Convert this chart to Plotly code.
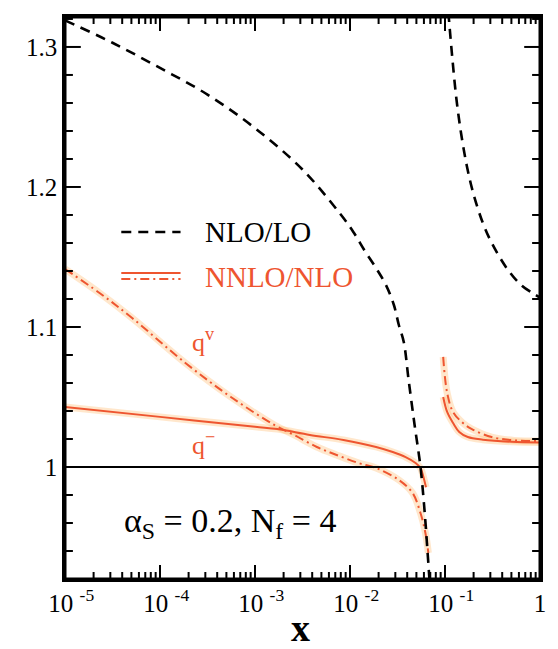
import math
import plotly.graph_objects as go

# ---------------- data ----------------
# NLO/LO, small-x branch
nlo_x1 = [1e-5, 3.16e-5, 1e-4, 3.16e-4, 1e-3, 3.16e-3, 7.76e-3, 1.084e-2, 1.413e-2,
          1.879e-2, 2.388e-2, 2.897e-2, 3.266e-2, 3.681e-2, 4.140e-2, 4.786e-2,
          5.521e-2, 6.081e-2, 6.531e-2, 6.855e-2]
nlo_y1 = [1.319, 1.303, 1.285, 1.266, 1.242, 1.2125, 1.1814, 1.1679, 1.155,
          1.1421, 1.130, 1.1157, 1.1014, 1.0893, 1.0621, 1.030,
          1.000, 0.9693, 0.9407, 0.920]
# NLO/LO, large-x branch
nlo_x2 = [0.1084, 0.1122, 0.1202, 0.1318, 0.1479, 0.1698, 0.1995, 0.2512,
          0.3162, 0.4467, 0.6310, 0.8913, 1.0]
nlo_y2 = [1.325, 1.313, 1.290, 1.263, 1.238, 1.215, 1.195, 1.174,
          1.159, 1.142, 1.130, 1.123, 1.121]

# NNLO/NLO, q^- (solid)
qm_x1 = [1e-5, 1e-4, 1e-3, 1.72e-3, 3.78e-3, 8.53e-3, 1.88e-2, 2.82e-2,
         3.85e-2, 4.90e-2, 5.52e-2, 5.93e-2, 6.31e-2]
qm_y1 = [1.0429, 1.0358, 1.0287, 1.0271, 1.0229, 1.0193, 1.0143, 1.0107,
         1.0071, 1.0029, 0.9993, 0.9929, 0.9855]
qm_x2 = [0.0957, 0.1054, 0.1216, 0.1413, 0.1738, 0.2512, 0.5012, 1.0]
qm_y2 = [1.050, 1.0393, 1.0314, 1.0250, 1.0214, 1.0195, 1.0180, 1.0175]

# NNLO/NLO, q^v (dash-dot)
qv_x1 = [1e-5, 2.31e-5, 5.09e-5, 1.85e-4, 5.57e-4, 1.60e-3, 2.58e-3, 4.48e-3,
         7.23e-3, 1.22e-2, 1.88e-2, 3.27e-2, 4.56e-2, 5.52e-2, 6.22e-2, 6.68e-2]
qv_y1 = [1.1414, 1.1243, 1.1064, 1.0743, 1.0500, 1.0300, 1.0229, 1.0143,
         1.0086, 1.0029, 0.9993, 0.9907, 0.9814, 0.9671, 0.9529, 0.9386]
qv_x2 = [0.0957, 0.1054, 0.1216, 0.1545, 0.1919, 0.3097, 0.5370, 1.0]
qv_y2 = [1.0786, 1.0529, 1.0393, 1.0314, 1.0271, 1.0214, 1.0190, 1.0185]

# axes ticks
x_tickvals = [1e-5, 1e-4, 1e-3, 1e-2, 1e-1, 1]
x_ticktext = ["\u00a0\u00a010\u00a0<sup>-5</sup>", "\u00a0\u00a010\u00a0<sup>-4</sup>",
              "\u00a0\u00a010\u00a0<sup>-3</sup>", "\u00a0\u00a010\u00a0<sup>-2</sup>",
              "\u00a0\u00a010\u00a0<sup>-1</sup>", "1"]
x_minor_vals = [m * d for d in [1e-5, 1e-4, 1e-3, 1e-2, 1e-1] for m in range(2, 10)]
y_tickvals = [1.0, 1.1, 1.2, 1.3]
y_ticktext = ["1", "1.1", "1.2", "1.3"]
y_minor_vals = [0.94, 0.96, 0.98, 1.02, 1.04, 1.06, 1.08, 1.12, 1.14, 1.16, 1.18,
                1.22, 1.24, 1.26, 1.28, 1.32]
ref_x = [1e-5, 1.0]
ref_y = [1.0, 1.0]

X_RANGE = [-5, 0]
Y_RANGE = [0.92, 1.3214]

# ---------------- styles / geometry ----------------
W, H = 558, 649
ML, MR, MT, MB = 65, 12, 17, 70
PW, PH = W - ML - MR, H - MT - MB
ORANGE = "#EE5530"
HALO = "rgba(255,185,110,0.35)"
SERIF = "Liberation Serif, Times New Roman, serif"
DASHDOT = "9px,4px,2px,4px"
DASH = "10px,7px"

fig = go.Figure()

# glow under orange curves
for xs, ys in [(qm_x1, qm_y1), (qm_x2, qm_y2), (qv_x1, qv_y1), (qv_x2, qv_y2)]:
    fig.add_trace(go.Scatter(x=xs, y=ys, mode="lines",
                             line=dict(color=HALO, width=7, shape="spline"),
                             hoverinfo="skip", showlegend=False))

fig.add_trace(go.Scatter(x=qm_x1, y=qm_y1, mode="lines",
                         line=dict(color=ORANGE, width=2, shape="spline"), showlegend=False))
fig.add_trace(go.Scatter(x=qm_x2, y=qm_y2, mode="lines",
                         line=dict(color=ORANGE, width=2, shape="spline"), showlegend=False))
fig.add_trace(go.Scatter(x=qv_x1, y=qv_y1, mode="lines",
                         line=dict(color=ORANGE, width=2, dash=DASHDOT, shape="spline"),
                         showlegend=False))
fig.add_trace(go.Scatter(x=qv_x2, y=qv_y2, mode="lines",
                         line=dict(color=ORANGE, width=2, dash=DASHDOT, shape="spline"),
                         showlegend=False))

fig.add_trace(go.Scatter(x=nlo_x1, y=nlo_y1, mode="lines",
                         line=dict(color="black", width=2.6, dash=DASH, shape="spline"),
                         showlegend=False))
fig.add_trace(go.Scatter(x=nlo_x2, y=nlo_y2, mode="lines",
                         line=dict(color="black", width=2.6, dash=DASH, shape="spline"),
                         showlegend=False))

# reference line at 1
fig.add_trace(go.Scatter(x=ref_x, y=ref_y, mode="lines",
                         line=dict(color="black", width=2), showlegend=False, hoverinfo="skip"))

# ---------- inward ticks on all four sides, drawn as a line trace ----------
ySpan = Y_RANGE[1] - Y_RANGE[0]
xSpan = X_RANGE[1] - X_RANGE[0]
tx, ty = [], []
for vals, length in [(x_tickvals, 14), (x_minor_vals, 7)]:
    dy = length / PH * ySpan
    for v in vals:
        if 10 ** X_RANGE[0] < v < 10 ** X_RANGE[1]:
            tx += [v, v, None, v, v, None]
            ty += [Y_RANGE[0], Y_RANGE[0] + dy, None, Y_RANGE[1], Y_RANGE[1] - dy, None]
for vals, length in [(y_tickvals, 16), (y_minor_vals, 8)]:
    dlog = length / PW * xSpan
    for v in vals:
        if Y_RANGE[0] < v < Y_RANGE[1]:
            tx += [10 ** X_RANGE[0], 10 ** (X_RANGE[0] + dlog), None,
                   10 ** X_RANGE[1], 10 ** (X_RANGE[1] - dlog), None]
            ty += [v, v, None, v, v, None]
fig.add_trace(go.Scatter(x=tx, y=ty, mode="lines", line=dict(color="black", width=2),
                         connectgaps=False, showlegend=False, hoverinfo="skip"))

# frame
fig.add_shape(type="rect", xref="paper", yref="paper", x0=0, x1=1, y0=0, y1=1,
              line=dict(color="black", width=3), layer="above")

# legend samples (paper coords)
def px2paper_x(px):
    return (px - ML) / PW

def px2paper_y(py):
    return (H - MB - py) / PH

fig.add_shape(type="line", xref="paper", yref="paper",
              x0=px2paper_x(122), x1=px2paper_x(182), y0=px2paper_y(232), y1=px2paper_y(232),
              line=dict(color="black", width=2.6, dash=DASH))
fig.add_shape(type="line", xref="paper", yref="paper",
              x0=px2paper_x(122), x1=px2paper_x(182), y0=px2paper_y(273), y1=px2paper_y(273),
              line=dict(color=ORANGE, width=2))
fig.add_shape(type="line", xref="paper", yref="paper",
              x0=px2paper_x(122), x1=px2paper_x(182), y0=px2paper_y(279), y1=px2paper_y(279),
              line=dict(color=ORANGE, width=2, dash=DASHDOT))

ann = [
    dict(text="NLO/LO", x=px2paper_x(205), y=px2paper_y(232), color="black", size=29, xanchor="left"),
    dict(text="NNLO/NLO", x=px2paper_x(205), y=px2paper_y(277), color=ORANGE, size=29, xanchor="left"),
    dict(text="q<sup>v</sup>", x=px2paper_x(192), y=px2paper_y(341), color=ORANGE, size=26, xanchor="left"),
    dict(text="q<sup>\u2212</sup>", x=px2paper_x(192), y=px2paper_y(443), color=ORANGE, size=26, xanchor="left"),
    dict(text="\u03b1<sub>S</sub> = 0.2, N<sub>f</sub> = 4", x=px2paper_x(123), y=px2paper_y(523),
         color="black", size=34, xanchor="left"),
    dict(text="<b>x</b>", x=px2paper_x(303), y=px2paper_y(628), color="black", size=38, xanchor="center"),
]
for a in ann:
    fig.add_annotation(text=a["text"], x=a["x"], y=a["y"], xref="paper", yref="paper",
                       xanchor=a["xanchor"], yanchor="middle", showarrow=False,
                       font=dict(family=SERIF, size=a["size"], color=a["color"]))

tickfont = dict(family=SERIF, size=25, color="black")

fig.update_layout(
    xaxis=dict(type="log", range=X_RANGE, showline=True, linecolor="black", linewidth=2.5,
               mirror=True, ticks="",
               tickmode="array", tickvals=x_tickvals, ticktext=x_ticktext,
               tickfont=tickfont, showgrid=False, zeroline=False),
    yaxis=dict(range=Y_RANGE, showline=True, linecolor="black", linewidth=2.5,
               mirror=True, ticks="",
               tickmode="array", tickvals=y_tickvals, ticktext=y_ticktext,
               tickfont=tickfont, showgrid=False, zeroline=False),
    width=W, height=H, margin=dict(l=ML, r=MR, t=MT, b=MB),
    paper_bgcolor="white", plot_bgcolor="white", showlegend=False,
)

fig.write_html("out.html")
